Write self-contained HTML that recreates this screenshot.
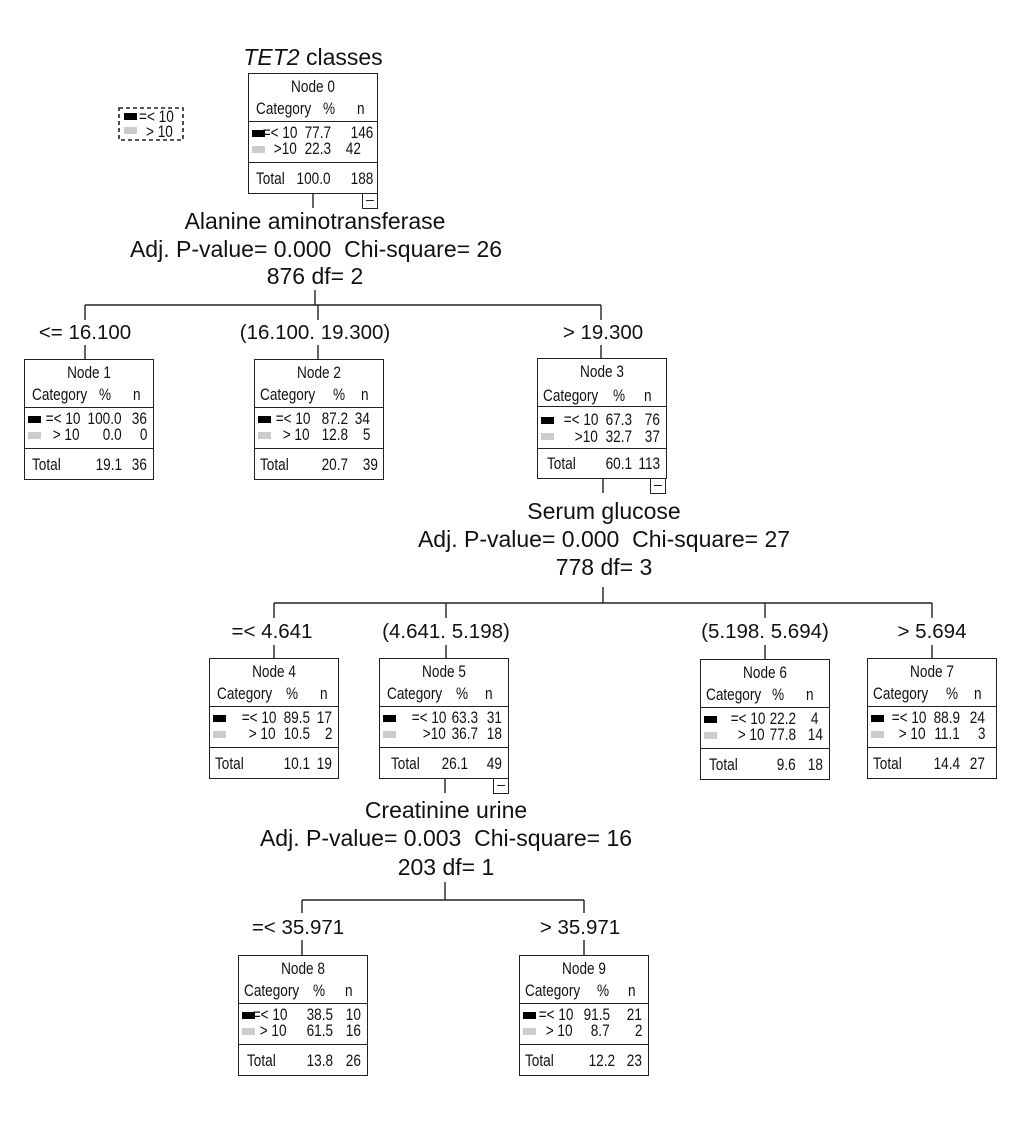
<!DOCTYPE html>
<html><head><meta charset="utf-8"><style>
body{margin:0;background:#fff;}
#c{position:relative;width:1020px;height:1142px;overflow:hidden;font-family:"Liberation Sans",Arial,sans-serif;color:#111;}
.n{position:absolute;width:130px;height:121px;border:1.3px solid #222;box-sizing:border-box;font-size:17px;}
.n span{position:absolute;line-height:16px;white-space:nowrap;transform:scaleX(.8);transform-origin:left center;}
.n span.r{transform-origin:right center;text-align:right;}
.n .t{left:0;width:100%;text-align:center;top:5px;transform-origin:center center !important;}
.n .hl{position:absolute;left:0;width:100%;border-top:1.3px solid #222;}
.sw{position:absolute;left:3px;width:13px;height:7px;}
.big{position:absolute;font-size:23px;white-space:nowrap;transform:translateX(-50%);line-height:24px;}
.lab{font-size:20.5px;}
.mb{position:absolute;width:16px;height:16px;border:1.3px solid #222;box-sizing:border-box;}
.mb:after{content:"";position:absolute;left:3px;right:3px;top:6px;border-top:1.3px solid #222;}
.lg{position:absolute;font-size:17px;line-height:15px;transform:scaleX(.8);transform-origin:left center;}
</style></head><body><div id="c">
<svg width="1020" height="1142" style="position:absolute;left:0;top:0" stroke="#222" stroke-width="1.4" fill="none">
<line x1="313" y1="193" x2="313" y2="208"/>
<line x1="315" y1="290" x2="315" y2="305"/>
<line x1="85" y1="305" x2="601" y2="305"/>
<line x1="85" y1="305" x2="85" y2="320"/><line x1="318" y1="305" x2="318" y2="320"/><line x1="601" y1="305" x2="601" y2="320"/>
<line x1="85" y1="345" x2="85" y2="359"/><line x1="318" y1="345" x2="318" y2="359"/><line x1="601" y1="345" x2="601" y2="359"/>
<line x1="603" y1="478" x2="603" y2="493"/>
<line x1="603" y1="587" x2="603" y2="603"/>
<line x1="274" y1="603" x2="932" y2="603"/>
<line x1="274" y1="603" x2="274" y2="618"/><line x1="446" y1="603" x2="446" y2="618"/><line x1="765" y1="603" x2="765" y2="618"/><line x1="932" y1="603" x2="932" y2="618"/>
<line x1="274" y1="645" x2="274" y2="658"/><line x1="446" y1="645" x2="446" y2="658"/><line x1="765" y1="645" x2="765" y2="659"/><line x1="932" y1="645" x2="932" y2="658"/>
<line x1="445" y1="778" x2="445" y2="793"/>
<line x1="445" y1="882" x2="445" y2="900"/>
<line x1="302" y1="900" x2="584" y2="900"/>
<line x1="302" y1="900" x2="302" y2="913"/><line x1="584" y1="900" x2="584" y2="913"/>
<line x1="302" y1="940" x2="302" y2="955"/><line x1="584" y1="940" x2="584" y2="955"/>
<rect x="119" y="108" width="64" height="32" stroke-dasharray="4,3" stroke-width="1.6"/>
</svg>
<div style="position:absolute;left:124px;top:113px;width:13px;height:7px;background:#000"></div>
<div style="position:absolute;left:124px;top:127px;width:13px;height:7px;background:#ccc"></div>
<div class="lg" style="left:139px;top:109px">=&lt; 10</div>
<div class="lg" style="left:146px;top:124px">&gt; 10</div>

<div class="big" style="left:313px;top:45px"><i>TET2</i> classes</div>
<div class="big" style="left:315px;top:209px">Alanine aminotransferase</div>
<div class="big" style="left:316px;top:237px">Adj. P-value= 0.000&nbsp; Chi-square= 26</div>
<div class="big" style="left:315px;top:264px">876 df= 2</div>
<div class="big lab" style="left:85px;top:321px">&lt;= 16.100</div>
<div class="big lab" style="left:315px;top:321px">(16.100. 19.300)</div>
<div class="big lab" style="left:603px;top:321px">&gt; 19.300</div>
<div class="big" style="left:604px;top:499px">Serum glucose</div>
<div class="big" style="left:604px;top:527px">Adj. P-value= 0.000&nbsp; Chi-square= 27</div>
<div class="big" style="left:604px;top:555px">778 df= 3</div>
<div class="big lab" style="left:272px;top:620px">=&lt; 4.641</div>
<div class="big lab" style="left:446px;top:620px">(4.641. 5.198)</div>
<div class="big lab" style="left:765px;top:620px">(5.198. 5.694)</div>
<div class="big lab" style="left:932px;top:620px">&gt; 5.694</div>
<div class="big" style="left:446px;top:798px">Creatinine urine</div>
<div class="big" style="left:446px;top:826px">Adj. P-value= 0.003&nbsp; Chi-square= 16</div>
<div class="big" style="left:446px;top:855px">203 df= 1</div>
<div class="big lab" style="left:298px;top:916px">=&lt; 35.971</div>
<div class="big lab" style="left:580px;top:916px">&gt; 35.971</div>

<div class="n" style="left:248px;top:73px"><span class="t">Node 0</span><span style="left:7px;top:27px">Category</span><span style="left:74px;top:27px">%</span><span style="left:108px;top:27px">n</span><div class="hl" style="top:47px"></div><div class="sw" style="top:56px;background:#000"></div><div class="sw" style="top:72px;background:#ccc"></div><span class="r" style="right:80px;top:51px">=&lt; 10</span><span class="r" style="right:80px;top:67px">&gt;10</span><span class="r" style="right:46px;top:51px">77.7</span><span class="r" style="right:46px;top:67px">22.3</span><span class="r" style="right:4px;top:51px">146</span><span class="r" style="right:16px;top:67px">42</span><div class="hl" style="top:88px"></div><span style="left:7px;top:97px">Total</span><span class="r" style="right:46px;top:97px">100.0</span><span class="r" style="right:4px;top:97px">188</span></div>
<div class="mb" style="left:362px;top:193px"></div>

<div class="n" style="left:24px;top:359px"><span class="t">Node 1</span><span style="left:7px;top:27px">Category</span><span style="left:74px;top:27px">%</span><span style="left:108px;top:27px">n</span><div class="hl" style="top:47px"></div><div class="sw" style="top:56px;background:#000"></div><div class="sw" style="top:72px;background:#ccc"></div><span class="r" style="right:73px;top:51px">=&lt; 10</span><span class="r" style="right:73px;top:67px">&gt; 10</span><span class="r" style="right:31px;top:51px">100.0</span><span class="r" style="right:31px;top:67px">0.0</span><span class="r" style="right:6px;top:51px">36</span><span class="r" style="right:6px;top:67px">0</span><div class="hl" style="top:88px"></div><span style="left:7px;top:97px">Total</span><span class="r" style="right:31px;top:97px">19.1</span><span class="r" style="right:6px;top:97px">36</span></div>

<div class="n" style="left:254px;top:359px"><span class="t">Node 2</span><span style="left:5px;top:27px">Category</span><span style="left:78px;top:27px">%</span><span style="left:106px;top:27px">n</span><div class="hl" style="top:47px"></div><div class="sw" style="top:56px;background:#000"></div><div class="sw" style="top:72px;background:#ccc"></div><span class="r" style="right:73px;top:51px">=&lt; 10</span><span class="r" style="right:73px;top:67px">&gt; 10</span><span class="r" style="right:35px;top:51px">87.2</span><span class="r" style="right:35px;top:67px">12.8</span><span class="r" style="right:13px;top:51px">34</span><span class="r" style="right:13px;top:67px">5</span><div class="hl" style="top:88px"></div><span style="left:5px;top:97px">Total</span><span class="r" style="right:35px;top:97px">20.7</span><span class="r" style="right:5px;top:97px">39</span></div>

<div class="n" style="left:537px;top:358px"><span class="t">Node 3</span><span style="left:5px;top:29px">Category</span><span style="left:75px;top:29px">%</span><span style="left:106px;top:29px">n</span><div class="hl" style="top:47px"></div><div class="sw" style="top:58px;background:#000"></div><div class="sw" style="top:74px;background:#ccc"></div><span class="r" style="right:68px;top:53px">=&lt; 10</span><span class="r" style="right:68px;top:70px">&gt;10</span><span class="r" style="right:34px;top:53px">67.3</span><span class="r" style="right:34px;top:70px">32.7</span><span class="r" style="right:6px;top:53px">76</span><span class="r" style="right:6px;top:70px">37</span><div class="hl" style="top:89px"></div><span style="left:9px;top:97px">Total</span><span class="r" style="right:34px;top:97px">60.1</span><span class="r" style="right:6px;top:97px">113</span></div>
<div class="mb" style="left:650px;top:478px"></div>

<div class="n" style="left:209px;top:658px"><span class="t">Node 4</span><span style="left:7px;top:27px">Category</span><span style="left:76px;top:27px">%</span><span style="left:110px;top:27px">n</span><div class="hl" style="top:47px"></div><div class="sw" style="top:56px;background:#000"></div><div class="sw" style="top:72px;background:#ccc"></div><span class="r" style="right:62px;top:51px">=&lt; 10</span><span class="r" style="right:62px;top:67px">&gt; 10</span><span class="r" style="right:28px;top:51px">89.5</span><span class="r" style="right:28px;top:67px">10.5</span><span class="r" style="right:6px;top:51px">17</span><span class="r" style="right:6px;top:67px">2</span><div class="hl" style="top:88px"></div><span style="left:5px;top:97px">Total</span><span class="r" style="right:28px;top:97px">10.1</span><span class="r" style="right:6px;top:97px">19</span></div>

<div class="n" style="left:379px;top:658px"><span class="t">Node 5</span><span style="left:7px;top:27px">Category</span><span style="left:76px;top:27px">%</span><span style="left:105px;top:27px">n</span><div class="hl" style="top:47px"></div><div class="sw" style="top:56px;background:#000"></div><div class="sw" style="top:72px;background:#ccc"></div><span class="r" style="right:62px;top:51px">=&lt; 10</span><span class="r" style="right:62px;top:67px">&gt;10</span><span class="r" style="right:30px;top:51px">63.3</span><span class="r" style="right:30px;top:67px">36.7</span><span class="r" style="right:6px;top:51px">31</span><span class="r" style="right:6px;top:67px">18</span><div class="hl" style="top:88px"></div><span style="left:11px;top:97px">Total</span><span class="r" style="right:40px;top:97px">26.1</span><span class="r" style="right:6px;top:97px">49</span></div>
<div class="mb" style="left:493px;top:778px"></div>

<div class="n" style="left:700px;top:659px"><span class="t">Node 6</span><span style="left:5px;top:27px">Category</span><span style="left:71px;top:27px">%</span><span style="left:105px;top:27px">n</span><div class="hl" style="top:47px"></div><div class="sw" style="top:56px;background:#000"></div><div class="sw" style="top:72px;background:#ccc"></div><span class="r" style="right:64px;top:51px">=&lt; 10</span><span class="r" style="right:64px;top:67px">&gt; 10</span><span class="r" style="right:33px;top:51px">22.2</span><span class="r" style="right:33px;top:67px">77.8</span><span class="r" style="right:11px;top:51px">4</span><span class="r" style="right:6px;top:67px">14</span><div class="hl" style="top:88px"></div><span style="left:8px;top:97px">Total</span><span class="r" style="right:33px;top:97px">9.6</span><span class="r" style="right:6px;top:97px">18</span></div>

<div class="n" style="left:867px;top:658px"><span class="t">Node 7</span><span style="left:5px;top:27px">Category</span><span style="left:78px;top:27px">%</span><span style="left:106px;top:27px">n</span><div class="hl" style="top:47px"></div><div class="sw" style="top:56px;background:#000"></div><div class="sw" style="top:72px;background:#ccc"></div><span class="r" style="right:70px;top:51px">=&lt; 10</span><span class="r" style="right:70px;top:67px">&gt; 10</span><span class="r" style="right:36px;top:51px">88.9</span><span class="r" style="right:36px;top:67px">11.1</span><span class="r" style="right:11px;top:51px">24</span><span class="r" style="right:11px;top:67px">3</span><div class="hl" style="top:88px"></div><span style="left:5px;top:97px">Total</span><span class="r" style="right:36px;top:97px">14.4</span><span class="r" style="right:11px;top:97px">27</span></div>

<div class="n" style="left:238px;top:955px"><span class="t">Node 8</span><span style="left:5px;top:27px">Category</span><span style="left:74px;top:27px">%</span><span style="left:106px;top:27px">n</span><div class="hl" style="top:47px"></div><div class="sw" style="top:56px;background:#000"></div><div class="sw" style="top:72px;background:#ccc"></div><span class="r" style="right:80px;top:51px">=&lt; 10</span><span class="r" style="right:80px;top:67px">&gt; 10</span><span class="r" style="right:34px;top:51px">38.5</span><span class="r" style="right:34px;top:67px">61.5</span><span class="r" style="right:6px;top:51px">10</span><span class="r" style="right:6px;top:67px">16</span><div class="hl" style="top:88px"></div><span style="left:8px;top:97px">Total</span><span class="r" style="right:34px;top:97px">13.8</span><span class="r" style="right:6px;top:97px">26</span></div>

<div class="n" style="left:519px;top:955px"><span class="t">Node 9</span><span style="left:5px;top:27px">Category</span><span style="left:77px;top:27px">%</span><span style="left:108px;top:27px">n</span><div class="hl" style="top:47px"></div><div class="sw" style="top:56px;background:#000"></div><div class="sw" style="top:72px;background:#ccc"></div><span class="r" style="right:75px;top:51px">=&lt; 10</span><span class="r" style="right:75px;top:67px">&gt; 10</span><span class="r" style="right:38px;top:51px">91.5</span><span class="r" style="right:38px;top:67px">8.7</span><span class="r" style="right:6px;top:51px">21</span><span class="r" style="right:6px;top:67px">2</span><div class="hl" style="top:88px"></div><span style="left:5px;top:97px">Total</span><span class="r" style="right:33px;top:97px">12.2</span><span class="r" style="right:6px;top:97px">23</span></div>
</div></body></html>
